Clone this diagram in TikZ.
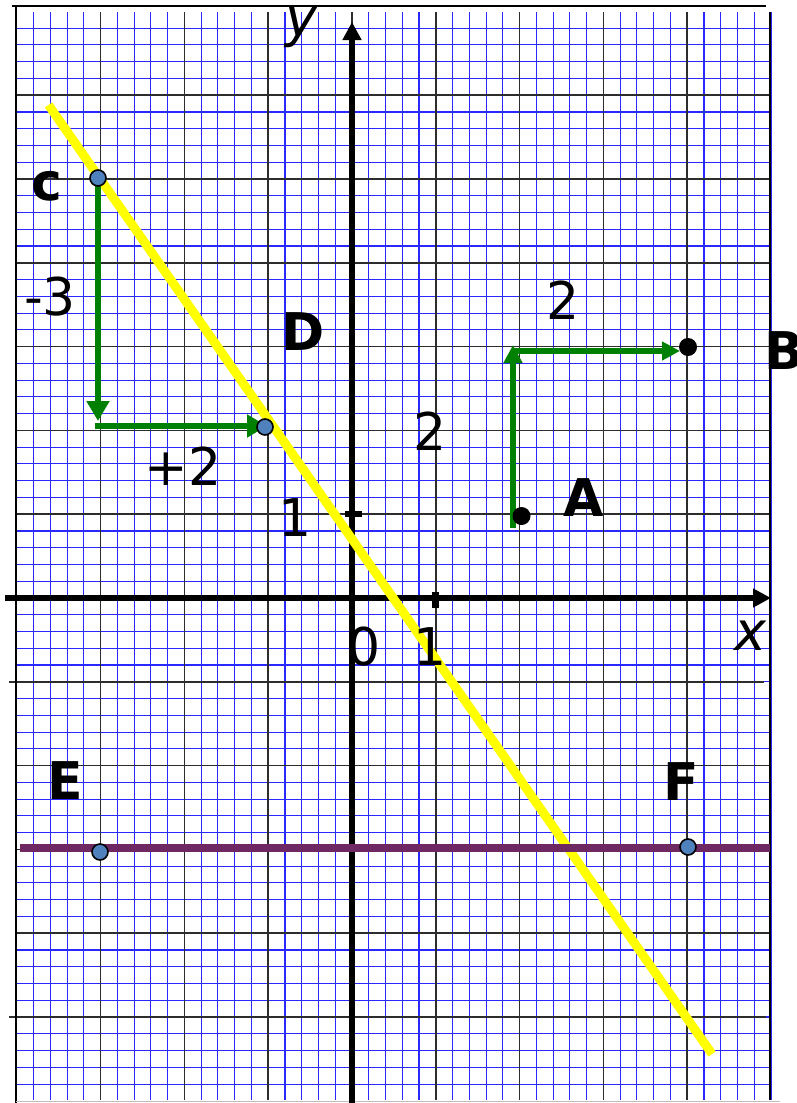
\documentclass[tikz,border=0pt]{standalone}
\usepackage{fontspec}
\setmainfont{DejaVu Sans}
\usetikzlibrary{arrows.meta}
\definecolor{gridblue}{RGB}{40,40,255}
\definecolor{gridblack}{RGB}{45,45,45}
\definecolor{ptblue}{RGB}{79,129,189}
\definecolor{arrgreen}{RGB}{0,128,0}
\definecolor{purpleline}{RGB}{110,40,98}
\definecolor{yell}{RGB}{255,255,0}
\begin{document}
\begin{tikzpicture}[x=1pt,y=-1pt,
  fine/.style={gridblue, line width=1.1pt},
  unitline/.style={gridblack, line width=1.5pt},
  axisline/.style={black, line width=5.5pt, -{Triangle[length=18pt,width=18pt]}},
  garrowA/.style={arrgreen, line width=6pt, -{Triangle[length=18pt,width=18pt]}},
  garrowC/.style={arrgreen, line width=6.5pt, -{Triangle[length=20pt,width=22pt]}},
  bluept/.style={circle, fill=ptblue, draw=black, line width=1.6pt, minimum size=16pt, inner sep=0pt},
  blackpt/.style={circle, fill=black, minimum size=18pt, inner sep=0pt},
  lbl/.style={font=\fontsize{52}{60}\selectfont, inner sep=0pt},
  blbl/.style={font=\fontsize{52}{60}\selectfont\bfseries, inner sep=0pt},
  ilbl/.style={font=\fontsize{54}{60}\selectfont\itshape, inner sep=0pt}
]
\useasboundingbox (0,0) rectangle (796,1103);
\fill[white] (0,0) rectangle (796,1103);
% fine grid
\foreach \k in {-20,...,25} {\draw[fine] ({352+\k*16.76},12) -- ({352+\k*16.76},1100);}
\foreach \j in {-29,...,34} {\draw[fine] (16,{598-\j*16.76}) -- (770,{598-\j*16.76});}
% unit lines
\foreach \m in {-3,...,4} {\draw[unitline] ({352+\m*83.8},12) -- ({352+\m*83.8},1100);}
\foreach \n in {-4,-3,-2,1,2,3,4,5,6} {\draw[unitline] (16,{598-\n*83.8}) -- (770,{598-\n*83.8});}
\draw[unitline] (9,681.8) -- (764,681.8);
\draw[unitline] (9,1017) -- (766,1017);
% frame
\draw[black, line width=2.6pt] (16,5) -- (16,1103);
\draw[black, line width=1.6pt] (770,12) -- (770,1100);
\draw[black, line width=1.6pt] (12,6) -- (766,6);
\draw[black!25, line width=1.5pt] (16,1101.5) -- (780,1101.5);
% axes
\coordinate (xs) at (5,598);
\coordinate (xe) at (771,598);
\coordinate (ys) at (352,1103);
\coordinate (ye) at (352,22);
\draw[axisline] (xs) -- (xe);
\draw[axisline] (ys) -- (ye);
\draw[black, line width=6.5pt] (345,514.2) -- (362,514.2);
\draw[black, line width=7pt] (435.8,592) -- (435.8,608);
% lines
\coordinate (yl1) at (48.5,105);
\coordinate (yl2) at (712,1054);
\draw[yell, line width=9pt] (yl1) -- (yl2);
\coordinate (pl1) at (20,848);
\coordinate (pl2) at (770,848);
\draw[purpleline, line width=7.5pt] (pl1) -- (pl2);
% green arrows
\coordinate (a0) at (513,528);
\coordinate (a1) at (513,345);
\coordinate (a2) at (512,351);
\coordinate (b0) at (680,351);
\draw[garrowA] (a0) -- (a1);
\draw[garrowA] (a2) -- (b0);
\coordinate (c0) at (98,180);
\coordinate (c1) at (98,421);
\coordinate (c2) at (95,426);
\coordinate (d0) at (267,426);
\draw[garrowC] (c0) -- (c1);
\draw[garrowC] (c2) -- (d0);
% points
\node[bluept] (C) at (98,178) {};
\node[bluept] (D) at (265,427) {};
\node[bluept] (E) at (100,852) {};
\node[bluept] (F) at (688,847) {};
\node[blackpt] (A) at (521.5,516) {};
\node[blackpt] (B) at (688,347) {};
% labels
\node[blbl] (lc) at (46.5,186) {c};
\node[blbl] (lD) at (303,332) {D};
\node[blbl] (lA) at (583.5,498) {A};
\node[blbl, anchor=west] (lB) at (764,351) {B};
\node[blbl] (lE) at (65.5,781) {E};
\node[blbl] (lF) at (681.5,782) {F};
\node[lbl] (m3) at (50,297) {-3};
\node[lbl] (p2) at (183,466) {+2};
\node[lbl] (t2) at (563,300) {2};
\node[lbl] (m2) at (430,431) {2};
\node[lbl] (oney) at (295,518) {1};
\node[lbl] (zero) at (364.5,647) {0};
\node[lbl] (onex) at (430,647) {1};
\node[ilbl] (ly) at (301,27) {y};
\node[ilbl] (lx) at (750,636) {x};
\end{tikzpicture}
\end{document}
